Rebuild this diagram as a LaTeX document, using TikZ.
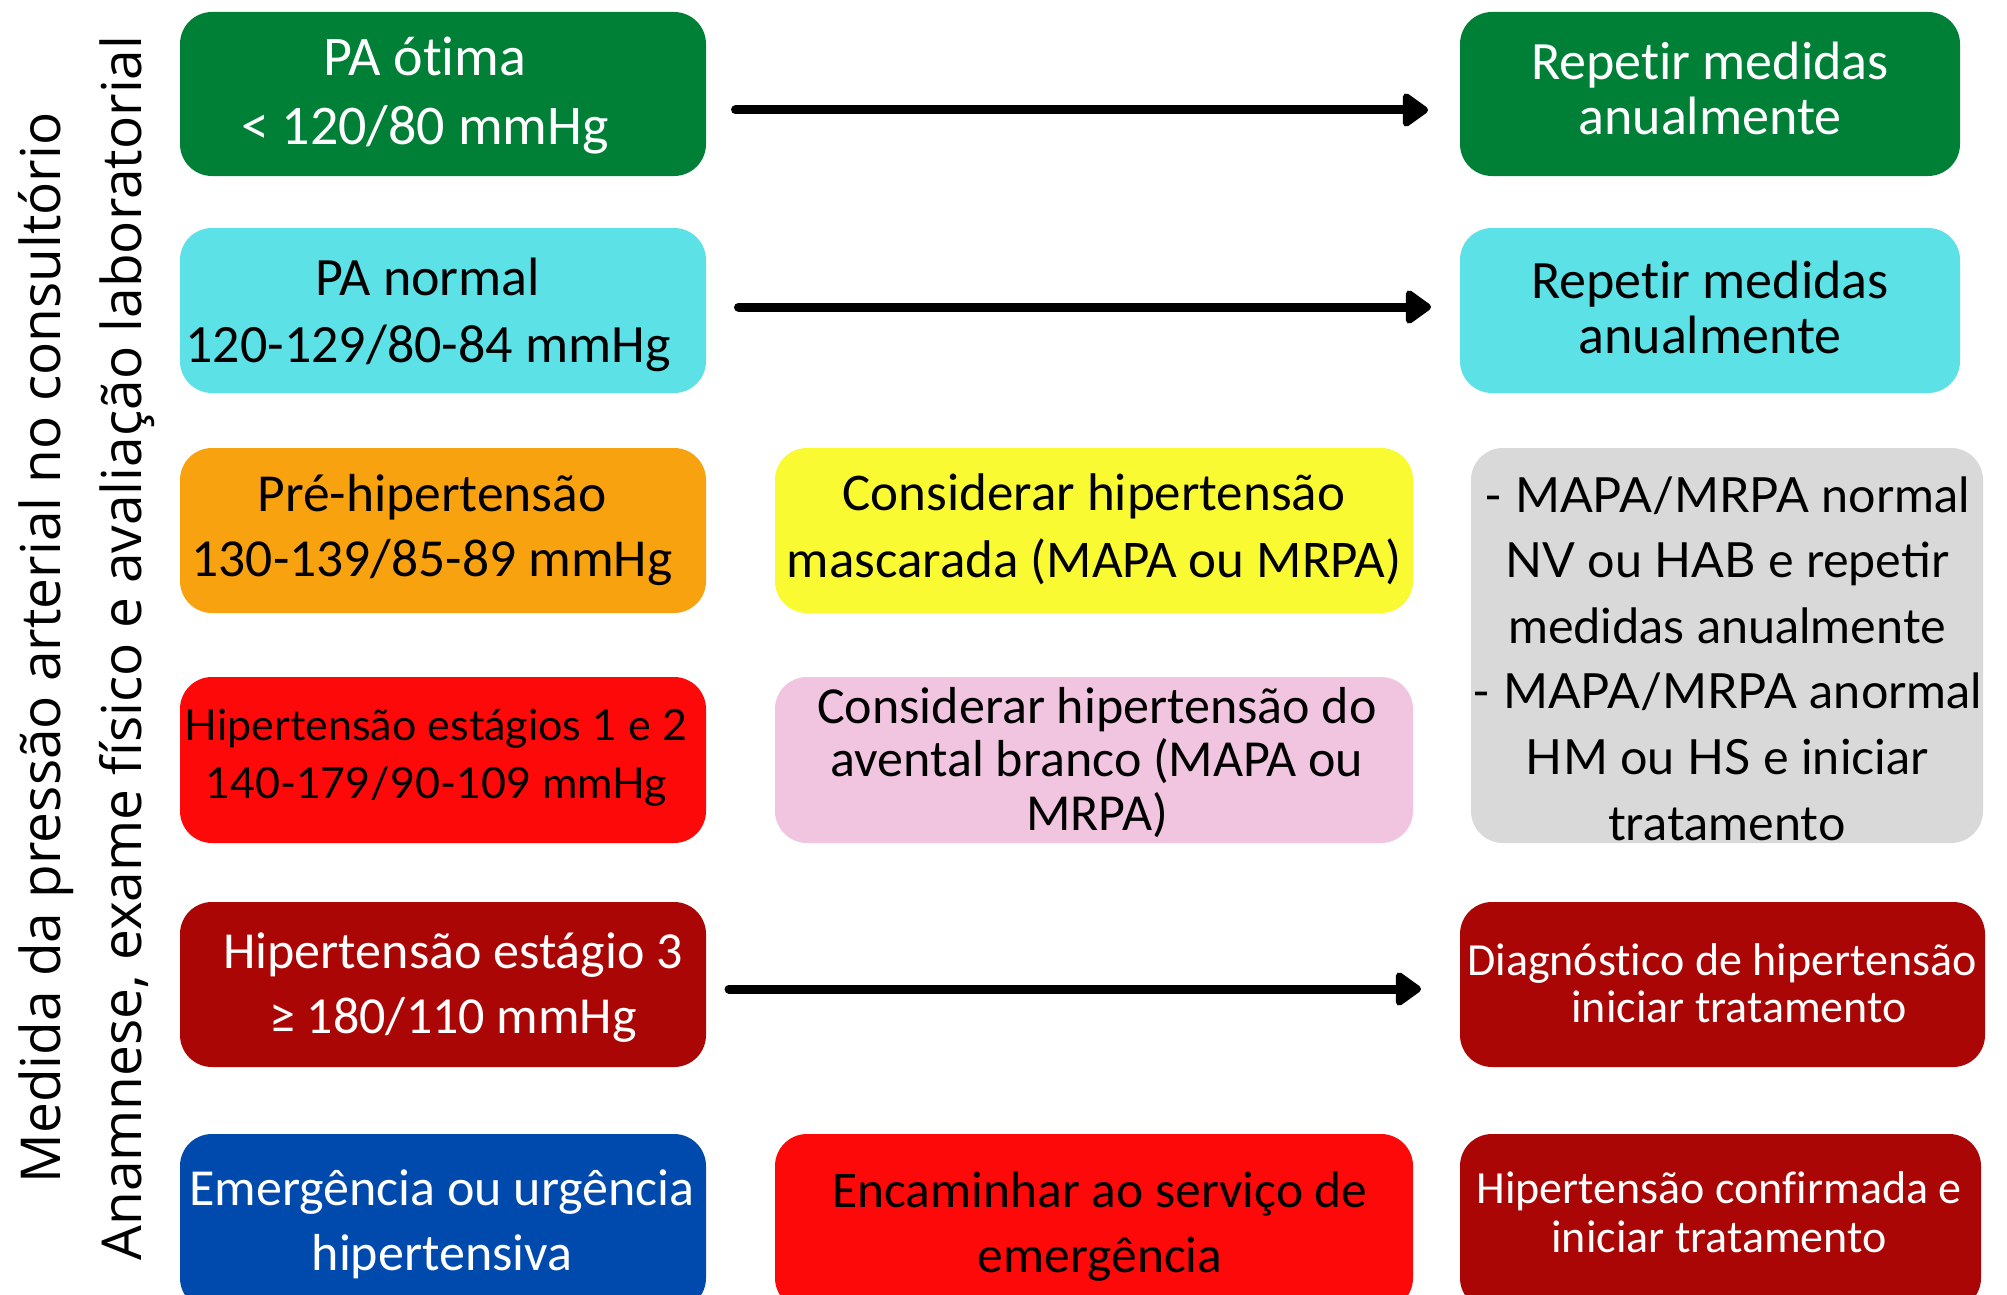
\documentclass[tikz,border=0pt]{standalone}
\usepackage{fontspec}
\setmainfont[Ligatures=NoCommon]{Carlito}
\newfontfamily\latof{Lato}
\newfontfamily\vertf{Open Sans}
\usetikzlibrary{arrows.meta,backgrounds,calc}
\definecolor{cgreen}{HTML}{008037}
\definecolor{ccyan}{HTML}{5CE1E6}
\definecolor{corange}{HTML}{F9A20F}
\definecolor{cred}{HTML}{FD0909}
\definecolor{cdred}{HTML}{AA0606}
\definecolor{cblue}{HTML}{004AAD}
\definecolor{cyellow}{HTML}{FAFA33}
\definecolor{cpink}{HTML}{F1C5E0}
\definecolor{cgray}{HTML}{D9D9D9}
\begin{document}
\begin{tikzpicture}[x=1pt,y=-1pt,
  box/.style={rectangle, rounded corners=32pt, inner sep=0pt, draw=none},
  lbl/.style={anchor=base, align=center, inner sep=0pt},
  arr/.style={line width=9pt, line cap=round, -{Triangle[length=28pt,width=38pt,round]}},
  link/.style={line width=10pt, line cap=round}]
\clip (0,0) rectangle (2007,1295);
\fill[white] (0,0) rectangle (2007,1295);
% left column
\node[box, fill=cgreen, minimum width=526pt, minimum height=164pt] (L1) at (443,94) {};
\node[box, fill=ccyan, minimum width=526pt, minimum height=165pt] (L2) at (443,310.5) {};
\node[box, fill=corange, minimum width=526pt, minimum height=165pt] (L3) at (443,530.5) {};
\node[box, fill=cred, minimum width=526pt, minimum height=166pt] (L4) at (443,760) {};
\node[box, fill=cdred, minimum width=526pt, minimum height=165pt] (L5) at (443,984.5) {};
\node[box, fill=cblue, minimum width=526pt, minimum height=176pt] (L6) at (443,1222) {};
% middle column
\node[box, fill=cyellow, minimum width=638pt, minimum height=165pt] (M3) at (1094,530.5) {};
\node[box, fill=cpink, minimum width=638pt, minimum height=166pt] (M4) at (1094,760) {};
\node[box, fill=cred, minimum width=638pt, minimum height=176pt] (M6) at (1094,1222) {};
% right column
\node[box, fill=cgreen, minimum width=500pt, minimum height=164pt] (R1) at (1710,94) {};
\node[box, fill=ccyan, minimum width=500pt, minimum height=165pt] (R2) at (1710,310.5) {};
\node[box, fill=cgray, minimum width=512pt, minimum height=395pt] (G) at (1727,645.5) {};
\node[box, fill=cdred, minimum width=525pt, minimum height=165pt] (R5) at (1722.5,984.5) {};
\node[box, fill=cdred, minimum width=521pt, minimum height=176pt] (R6) at (1720.5,1222) {};
% labels (anchor = baseline of the last line)
\node[lbl, font=\fontsize{56}{70}\selectfont, text=white] (L1t) at (425,145) {PA ótima\\< 120/80 mmHg};
\node[lbl, font=\fontsize{54}{55}\selectfont, text=white] (R1t) at (1710,135) {Repetir medidas\\anualmente};
\node[lbl, font=\fontsize{54}{67}\selectfont] (L2t) at (428,362) {PA normal\\120-129/80-84 mmHg};
\node[lbl, font=\fontsize{54}{55}\selectfont] (R2t) at (1710,353) {Repetir medidas\\anualmente};
\node[lbl, font=\fontsize{53.5}{65}\selectfont] (L3t) at (432,576) {Pré-hipertensão\\130-139/85-89 mmHg};
\node[lbl, font=\fontsize{53}{67}\selectfont] (M3t) at (1094,577) {Considerar hipertensão\\mascarada (MAPA ou MRPA)};
\node[lbl, font=\latof\fontsize{43}{58}\selectfont] (L4t) at (436,798) {Hipertensão estágios 1 e 2\\140-179/90-109 mmHg};
\node[lbl, font=\fontsize{52}{53.5}\selectfont] (M4t) at (1097,830) {Considerar hipertensão do\\avental branco (MAPA ou\\MRPA)};
\node[lbl, font=\latof\fontsize{48.5}{65.6}\selectfont] (Gt) at (1727,840) {- MAPA/MRPA normal\\NV ou HAB e repetir\\medidas anualmente\\- MAPA/MRPA anormal\\HM ou HS e iniciar\\tratamento};
\node[lbl, font=\fontsize{52}{65}\selectfont, text=white] (L5t) at (453,1033) {Hipertensão estágio 3\\≥ 180/110 mmHg};
\node[lbl, font=\fontsize{46}{47}\selectfont, text=white] (R5t) at (1722,1022) {Diagnóstico de hipertensão\\\hspace*{34pt}iniciar tratamento};
\node[lbl, font=\fontsize{52}{65}\selectfont, text=white] (L6t) at (442,1270) {Emergência ou urgência\\hipertensiva};
\node[lbl, font=\fontsize{51.5}{65}\selectfont] (M6t) at (1100,1272) {Encaminhar ao serviço de\\emergência};
\node[lbl, font=\fontsize{46}{49}\selectfont, text=white] (R6t) at (1719,1252) {Hipertensão confirmada e\\iniciar tratamento};
% vertical text
\node[lbl, rotate=90, font=\vertf\fontsize{55}{81}\selectfont] (V) at (141,648) {Medida da pressão arterial no consultório\\Anamnese, exame físico e avaliação laboratorial};
% arrows
\coordinate (a1s) at (735.5,110); \coordinate (a1e) at (1428,110);
\coordinate (a2s) at (738.5,307); \coordinate (a2e) at (1431,307);
\coordinate (a5s) at (729,989); \coordinate (a5e) at (1421,989);
\draw[arr] (a1s) -- (a1e);
\draw[arr] (a2s) -- (a2e);
\draw[arr] (a5s) -- (a5e);
% links
\coordinate (c3) at (0,551);
\coordinate (c4) at (0,777);
\coordinate (c6) at (0,1220);
\begin{pgfonlayer}{background}
\draw[link] ($(L3.east|-c3)+(7,0)$) -- (M3.west|-c3);
\draw[link] (M3.east|-c3) -- ($(G.west|-c3)+(-15,0)$);
\draw[link] ($(L4.east|-c4)+(7,0)$) -- (M4.west|-c4);
\draw[link] (M4.east|-c4) -- ($(G.west|-c4)+(-15,0)$);
\draw[link] ($(L6.east|-c6)+(17,0)$) -- (M6.west|-c6);
\draw[link] (M6.east|-c6) -- (R6.west|-c6);
\end{pgfonlayer}
\end{tikzpicture}
\end{document}
